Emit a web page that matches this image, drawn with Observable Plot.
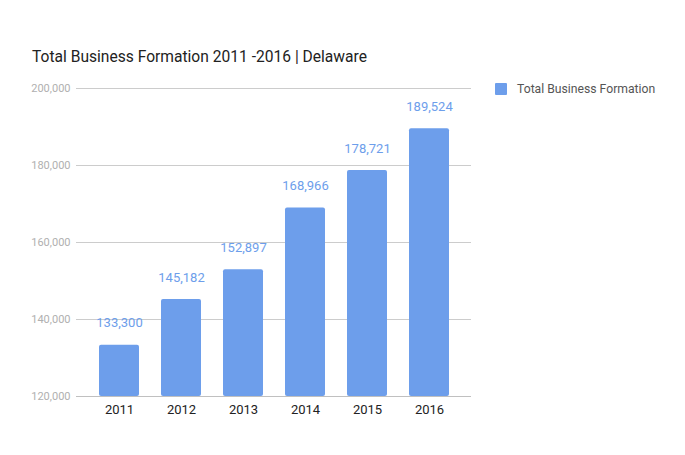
<!DOCTYPE html>
<html>
<head>
<meta charset="utf-8">
<script src="https://cdn.jsdelivr.net/npm/d3@7"></script>
<script src="https://cdn.jsdelivr.net/npm/@observablehq/plot@0.6"></script>
<style>
  html, body { margin: 0; padding: 0; background: #fff; }
  #wrap { position: relative; width: 685px; height: 455px; font-family: Roboto, sans-serif; }
  #title { position: absolute; left: 32px; top: 48px; font-size: 15.6px; color: #222; white-space: nowrap; }
  #legend { position: absolute; left: 495px; top: 82px; font-size: 12.2px; color: #555; display: flex; align-items: center; white-space: nowrap; }
  #legend .sw { width: 12px; height: 12px; background: #6d9eeb; border-radius: 1px; margin-right: 10px; }
  #chart { position: absolute; left: 0; top: 0; }
</style>
</head>
<body>
<div id="wrap">
  <div id="chart"></div>
  <div id="title">Total Business Formation 2011 -2016 | Delaware</div>
  <div id="legend"><div class="sw"></div><span>Total Business Formation</span></div>
</div>
<script>
const years = ["2011", "2012", "2013", "2014", "2015", "2016"];
const values = [133300, 145182, 152897, 168966, 178721, 189524];
const yTicks = [120000, 140000, 160000, 180000, 200000];

const data = years.map((y, i) => ({year: y, value: values[i]}));
const fmt = d3.format(",");

const chart = Plot.plot({
  width: 685,
  height: 455,
  marginTop: 88,
  marginBottom: 59,
  marginLeft: 76,
  marginRight: 214,
  style: {fontFamily: "Roboto, sans-serif", background: "transparent"},
  x: {domain: years, paddingInner: 0.36, paddingOuter: 0.345, label: null, tickSize: 0, tickPadding: 8},
  y: {domain: [120000, 200000], ticks: yTicks, label: null, tickSize: 0, tickPadding: 6, tickFormat: fmt},
  marks: [
    Plot.ruleY(yTicks, {stroke: "#cccccc", strokeWidth: 1}),
    Plot.barY(data, {x: "year", y1: 120000, y2: "value", fill: "#6d9eeb", rx: 2}),
    Plot.ruleY([120000], {stroke: "#c0c0c0", strokeWidth: 1}),
    Plot.text(data, {x: "year", y: "value", text: d => fmt(d.value), dy: -22, fill: "#6d9eeb", fontSize: 13}),
    Plot.axisY({ticks: yTicks, tickSize: 0, tickPadding: 6, tickFormat: fmt, fill: "#b0b0b0", fontSize: 11, label: null}),
    Plot.axisX({tickSize: 0, tickPadding: 8, fill: "#222", fontSize: 13, label: null})
  ]
});
document.getElementById("chart").appendChild(chart);
</script>
</body>
</html>
